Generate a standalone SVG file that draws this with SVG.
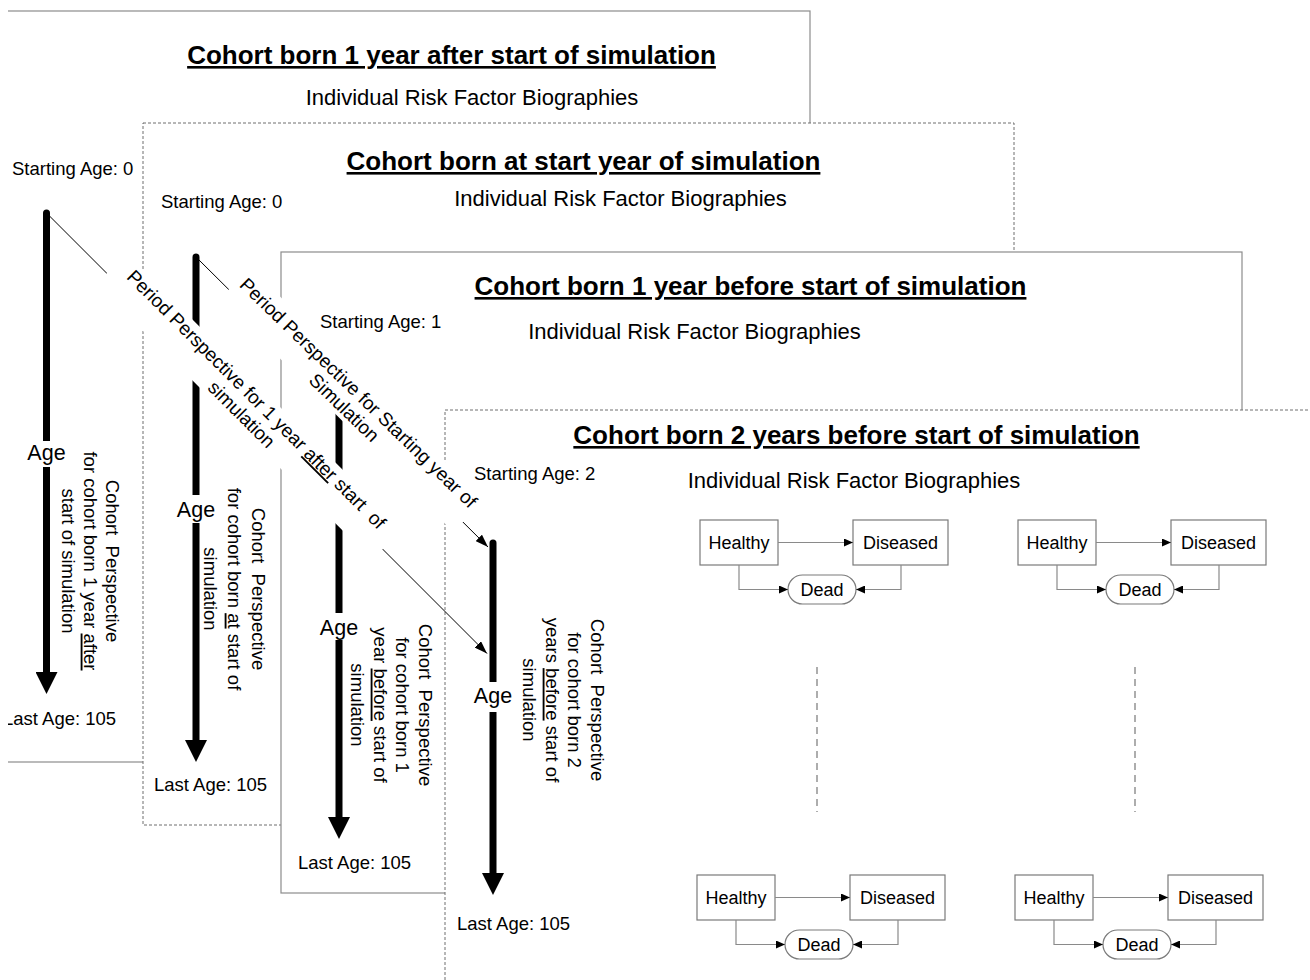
<svg xmlns="http://www.w3.org/2000/svg" width="1310" height="980" viewBox="0 0 1310 980">
<defs>
<style>
text{font-family:"Liberation Sans",Arial,sans-serif;fill:#000}
.title{font-size:26px;font-weight:bold;text-decoration:underline;text-anchor:middle}
.sub{font-size:22px;text-anchor:middle}
.lbl{font-size:18.5px}
.age{font-size:21.5px;text-anchor:middle}
.coh{font-size:18.5px;text-anchor:middle}
.diag{font-size:19px;text-anchor:middle}
.u{text-decoration:underline}
.pnl{fill:#fff;stroke:#8c8c8c;stroke-width:1.2}
.pnld{fill:#fff;stroke:#6e6e6e;stroke-width:1;stroke-dasharray:3 2}
.axis{stroke:#000;stroke-width:7;stroke-linecap:round;fill:none;marker-end:url(#big)}
.conn{stroke:#000;stroke-width:1;fill:none;marker-end:url(#thin)}
.mask{fill:#fff;stroke:none}
.box{fill:#fff;stroke:#7a7a7a;stroke-width:1.2}
.st{font-size:18px;text-anchor:middle}
.sl{stroke:#8a8a8a;stroke-width:1.2;fill:none;marker-end:url(#small)}
.sep{stroke:#777;stroke-width:1.2;stroke-dasharray:7 5}
</style>
<marker id="big" markerUnits="userSpaceOnUse" markerWidth="22" markerHeight="22" refX="0" refY="11" orient="auto" viewBox="0 0 22 22"><path d="M0,0 L22,11 L0,22 z" fill="#000"/></marker>
<marker id="thin" markerUnits="userSpaceOnUse" markerWidth="13" markerHeight="9" refX="13" refY="4.5" orient="auto" viewBox="0 0 13 9"><path d="M0,0 L13,4.5 L0,9 z" fill="#000"/></marker>
<marker id="small" markerUnits="userSpaceOnUse" markerWidth="9" markerHeight="8" refX="9" refY="4" orient="auto" viewBox="0 0 9 8"><path d="M0,0 L9,4 L0,8 z" fill="#000"/></marker>
<clipPath id="leftcut"><rect x="8" y="0" width="1302" height="980"/></clipPath>
</defs>
<rect x="0" y="0" width="1310" height="980" fill="#fff"/>

<g id="panel-after" clip-path="url(#leftcut)">
<rect class="pnl" x="-20" y="11" width="830" height="751"/>
<text class="title" x="451.5" y="64">Cohort born 1 year after start of simulation</text>
<text class="sub" x="472" y="105">Individual Risk Factor Biographies</text>
<text class="lbl" x="12" y="174.5">Starting Age: 0</text>
<path class="axis" d="M46.5,213 V672"/>
<rect class="mask" x="26" y="441" width="41" height="26"/>
<text class="age" x="46.5" y="460">Age</text>
<text class="coh" transform="translate(105.5,561) rotate(90)"><tspan x="0" y="0">Cohort&#160; Perspective</tspan><tspan x="0" y="22">for cohort born 1 year <tspan class="u">after</tspan></tspan><tspan x="0" y="44">start of simulation</tspan></text>
<text class="lbl" x="3" y="725">Last Age: 105</text>
</g>

<g id="panel-start">
<rect class="pnld" x="143" y="123" width="871" height="702"/>
<text class="title" x="583.5" y="170">Cohort born at start year of simulation</text>
<text class="sub" x="620.5" y="206">Individual Risk Factor Biographies</text>
<text class="lbl" x="161" y="207.5">Starting Age: 0</text>
<path class="axis" d="M196,257 V740"/>
<rect class="mask" x="175" y="495" width="42" height="28"/>
<text class="age" x="196" y="517">Age</text>
<text class="coh" transform="translate(251.5,589) rotate(90)"><tspan x="0" y="0">Cohort&#160; Perspective</tspan><tspan x="0" y="24">for cohort born <tspan class="u">at</tspan> start of</tspan><tspan x="0" y="48">simulation</tspan></text>
<text class="lbl" x="154" y="790.5">Last Age: 105</text>
</g>

<g id="panel-before1">
<rect class="pnl" x="281" y="252" width="961" height="641"/>
<text class="title" x="750.5" y="295">Cohort born 1 year before start of simulation</text>
<text class="sub" x="694.5" y="339">Individual Risk Factor Biographies</text>
<text class="lbl" x="320" y="327.5">Starting Age: 1</text>
<path class="axis" d="M339,370 V817"/>
<rect class="mask" x="318" y="613" width="42" height="27"/>
<text class="age" x="339" y="635">Age</text>
<text class="coh" transform="translate(418.5,705) rotate(90)"><tspan x="0" y="0">Cohort&#160; Perspective</tspan><tspan x="0" y="22.5">for cohort born 1</tspan><tspan x="0" y="45">year <tspan class="u">before</tspan> start of</tspan><tspan x="0" y="67.5">simulation</tspan></text>
<text class="lbl" x="298" y="869">Last Age: 105</text>
</g>

<g id="panel-before2">
<rect class="pnld" x="445" y="410" width="900" height="600"/>
<text class="title" x="856.5" y="444">Cohort born 2 years before start of simulation</text>
<text class="sub" x="854" y="488">Individual Risk Factor Biographies</text>
<text class="lbl" x="474" y="479.5">Starting Age: 2</text>
<path class="axis" d="M493,543 V873"/>
<rect class="mask" x="472" y="682" width="42" height="30"/>
<text class="age" x="493" y="703">Age</text>
<text class="coh" transform="translate(590.5,700) rotate(90)"><tspan x="0" y="0">Cohort&#160; Perspective</tspan><tspan x="0" y="22.5">for cohort born 2</tspan><tspan x="0" y="45">years <tspan class="u">before</tspan> start of</tspan><tspan x="0" y="67.5">simulation</tspan></text>
<text class="lbl" x="457" y="930">Last Age: 105</text>
<line class="sep" x1="817" y1="667" x2="817" y2="812"/>
<line class="sep" x1="1135" y1="667" x2="1135" y2="812"/>
</g>

<g id="biography-1" transform="translate(0,0)">
<g id="b1-healthy"><rect class="box" x="700" y="520" width="78" height="45"/><text class="st" x="739" y="548.5">Healthy</text></g>
<g id="b1-diseased"><rect class="box" x="853" y="520" width="95" height="45"/><text class="st" x="900.5" y="548.5">Diseased</text></g>
<g id="b1-dead"><rect class="box" x="788" y="575" width="68" height="29" rx="14.5"/><text class="st" x="822" y="596">Dead</text></g>
<g id="b1-edges"><path class="sl" d="M778,542.5 H853"/><path class="sl" d="M739,565 V589.5 H788"/><path class="sl" d="M901,565 V589.5 H856"/></g>
</g>
<g id="biography-2" transform="translate(318,0)">
<g id="b2-healthy"><rect class="box" x="700" y="520" width="78" height="45"/><text class="st" x="739" y="548.5">Healthy</text></g>
<g id="b2-diseased"><rect class="box" x="853" y="520" width="95" height="45"/><text class="st" x="900.5" y="548.5">Diseased</text></g>
<g id="b2-dead"><rect class="box" x="788" y="575" width="68" height="29" rx="14.5"/><text class="st" x="822" y="596">Dead</text></g>
<g id="b2-edges"><path class="sl" d="M778,542.5 H853"/><path class="sl" d="M739,565 V589.5 H788"/><path class="sl" d="M901,565 V589.5 H856"/></g>
</g>
<g id="biography-3" transform="translate(-3,355)">
<g id="b3-healthy"><rect class="box" x="700" y="520" width="78" height="45"/><text class="st" x="739" y="548.5">Healthy</text></g>
<g id="b3-diseased"><rect class="box" x="853" y="520" width="95" height="45"/><text class="st" x="900.5" y="548.5">Diseased</text></g>
<g id="b3-dead"><rect class="box" x="788" y="575" width="68" height="29" rx="14.5"/><text class="st" x="822" y="596">Dead</text></g>
<g id="b3-edges"><path class="sl" d="M778,542.5 H853"/><path class="sl" d="M739,565 V589.5 H788"/><path class="sl" d="M901,565 V589.5 H856"/></g>
</g>
<g id="biography-4" transform="translate(315,355)">
<g id="b4-healthy"><rect class="box" x="700" y="520" width="78" height="45"/><text class="st" x="739" y="548.5">Healthy</text></g>
<g id="b4-diseased"><rect class="box" x="853" y="520" width="95" height="45"/><text class="st" x="900.5" y="548.5">Diseased</text></g>
<g id="b4-dead"><rect class="box" x="788" y="575" width="68" height="29" rx="14.5"/><text class="st" x="822" y="596">Dead</text></g>
<g id="b4-edges"><path class="sl" d="M778,542.5 H853"/><path class="sl" d="M739,565 V589.5 H788"/><path class="sl" d="M901,565 V589.5 H856"/></g>
</g>

<g id="connectors">
<path class="conn" d="M46.5,213 L487,653.5"/>
<path class="conn" d="M196,257 L488,547"/>
<g id="label-period-after" transform="translate(249.25,406.75)">
<rect class="mask" transform="rotate(45)" x="-195" y="-21.5" width="390" height="43"/>
<text class="diag" transform="rotate(45)"><tspan x="0" y="-3.7">Period Perspective for 1 year <tspan class="u">after</tspan> start&#160; of</tspan><tspan x="0" y="17.3">simulation</tspan></text>
</g>
<g id="label-period-start" transform="translate(352,399.5)">
<rect class="mask" transform="rotate(45)" x="-165" y="-22" width="330" height="44"/>
<text class="diag" transform="rotate(44)"><tspan x="0" y="-2.7">Period Perspective for Starting year of</tspan><tspan x="0" y="17.8">Simulation</tspan></text>
</g>
</g>
</svg>
